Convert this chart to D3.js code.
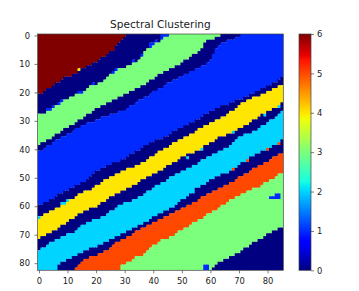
<!DOCTYPE html>
<html><head><meta charset="utf-8">
<script src="https://cdn.jsdelivr.net/npm/d3@7"></script>
<style>html,body{margin:0;padding:0;background:#fff}svg{display:block}text{font-family:"DejaVu Sans",sans-serif;fill:#1a1a1a}</style>
</head><body><div id="c"></div>
<script>
const xTicks=[0,10,20,30,40,50,60,70,80];
const yTicks=[0,10,20,30,40,50,60,70,80];
const cbTicks=[0,1,2,3,4,5,6];
const bandValues=[6,0,3,0,1,0,4,0,2,0,5,3,0];
// for every column: the row at which the next band starts
const b6to0=[21,21,20,19,19,18,17,17,16,15,15,15,14,14,13,12,12,11,11,10,10,9,8,8,7,6,6,4,3,2,1,0,0,0,0,0,0,0,0,0,0,0,0,0,0,0,0,0,0,0,0,0,0,0,0,0,0,0,0,0,0,0,0,0,0,0,0,0,0,0,0,0,0,0,0,0,0,0,0,0,0,0,0,0,0,0];
const b0to3=[28,28,28,27,27,26,25,25,24,23,23,22,22,21,21,21,20,19,18,18,18,17,17,16,15,14,14,13,12,12,12,11,11,10,10,9,8,6,5,5,4,3,3,2,1,1,0,0,0,0,0,0,0,0,0,0,0,0,0,0,0,0,0,0,0,0,0,0,0,0,0,0,0,0,0,0,0,0,0,0,0,0,0,0,0,0];
const b3to0=[39,38,38,37,37,36,35,35,34,33,33,32,32,31,30,30,29,28,28,27,26,26,25,25,24,24,23,23,22,22,21,21,20,20,19,19,18,18,17,16,16,15,14,14,13,13,12,12,11,11,10,9,9,8,7,7,6,5,3,2,2,2,1,1,0,0,0,0,0,0,0,0,0,0,0,0,0,0,0,0,0,0,0,0,0,0];
const b0to1=[41,41,40,39,39,38,37,37,36,36,35,35,34,33,33,32,32,31,31,31,30,30,29,29,29,28,28,28,27,27,27,26,25,25,24,23,23,22,22,21,20,20,19,19,18,17,17,16,16,15,15,14,14,13,13,12,12,11,11,10,9,7,5,4,3,3,2,2,2,1,1,0,0,0,0,0,0,0,0,0,0,0,0,0,0,0];
const b1to0=[60,60,59,59,58,58,57,56,56,55,55,54,54,53,53,52,52,51,50,49,48,48,47,47,46,46,45,45,45,44,44,43,42,42,41,41,40,39,39,38,38,37,37,37,36,36,35,34,34,33,33,32,32,31,31,30,30,29,28,28,27,27,26,26,25,25,25,24,24,23,23,23,22,22,21,21,20,20,19,19,18,18,17,17,16,15];
const b0to4=[64,64,63,63,62,62,61,61,60,60,59,58,58,57,56,56,55,55,55,54,53,53,52,51,51,50,50,49,49,48,48,47,47,47,46,46,45,45,44,43,43,42,41,41,40,40,39,38,38,37,37,36,36,35,35,34,33,33,32,32,31,31,30,30,29,29,28,27,27,26,25,24,24,23,23,22,22,22,21,21,20,20,19,19,18,18];
const b4to0=[72,71,71,70,70,69,69,68,67,67,66,65,65,64,63,63,62,62,61,61,61,60,59,59,58,57,57,56,56,55,55,54,54,53,53,52,51,51,50,50,49,49,48,48,47,46,46,45,45,44,43,43,42,42,42,41,41,40,39,39,38,38,37,36,36,36,35,35,34,34,33,33,32,32,31,30,30,29,28,28,27,27,26,26,25,24];
const b0to2=[76,75,75,74,73,73,72,72,71,71,70,70,70,69,68,67,67,66,66,65,65,65,64,64,63,62,62,61,60,60,59,59,59,58,58,57,57,56,55,55,54,53,53,52,52,51,50,50,49,49,48,48,47,47,46,46,45,44,44,43,43,42,42,41,41,40,40,39,38,37,36,36,35,35,35,34,34,33,32,32,31,30,30,29,28,27];
const b2to0=[83,83,83,83,83,83,83,81,80,80,79,79,78,78,77,77,76,76,75,75,75,74,74,73,73,72,72,71,71,70,70,69,69,68,68,67,67,66,66,65,64,64,63,63,62,62,61,61,60,59,58,58,57,56,56,54,54,53,53,52,51,51,50,50,49,49,49,48,47,47,46,45,45,44,43,43,42,42,41,41,40,40,39,39,38,37];
const b0to5=[83,83,83,83,83,83,83,83,83,83,83,83,83,82,81,80,79,79,78,78,78,77,77,76,76,75,74,73,73,72,72,71,71,70,69,69,68,68,67,67,66,66,65,65,64,64,63,63,62,62,61,61,60,60,59,59,58,57,57,56,56,55,55,54,54,53,53,52,52,51,50,50,49,49,48,47,47,46,46,45,45,44,43,43,42,42];
const b5to3=[83,83,83,83,83,83,83,83,83,83,83,83,83,83,83,83,83,83,83,83,83,83,83,83,83,83,83,83,83,81,81,80,80,79,78,78,78,77,76,75,74,74,73,72,72,72,71,71,70,69,69,68,68,67,66,66,65,65,64,63,63,62,62,61,60,60,59,58,58,57,57,56,56,55,55,54,54,54,53,52,52,51,51,50,49,49];
const b3to0b=[83,83,83,83,83,83,83,83,83,83,83,83,83,83,83,83,83,83,83,83,83,83,83,83,83,83,83,83,83,83,83,83,83,83,83,83,83,83,83,83,83,83,83,83,83,83,83,83,83,83,83,83,83,83,83,83,83,83,83,83,83,82,81,80,80,79,79,78,78,77,77,76,75,75,74,73,73,72,72,71,70,70,69,69,68,68];
const boundaries=[b6to0,b0to3,b3to0,b0to1,b1to0,b0to4,b4to0,b0to2,b2to0,b0to5,b5to3,b3to0b];
// isolated cells
const speckCols=[14, 3,4,5,7,8,14,15,19,26,27,33,36,39,39,40,41,43,43,44,45, 58,59,58,59, 83,84,81,82,83,84, 84,80,73,68, 84,79,68,57,52,0,8,9,10];
const speckRows=[12, 26,26,25,24,23,20,20,17,13,12,9,7,4,3,3,2,0,1,0,0, 81,81,82,82, 56,56,57,57,57,57, 38,40,44,47, 25,28,34,40,43,64,59,59,58];
const speckVals=[4, 1,1,1,1,1,1,1,1,1,1,1,1,1,1,1,1,1,1,1,1, 1,1,1,1, 1,1,1,1,1,1, 5,5,5,5, 2,2,2,2,2,2,2,2,2];

const W=359,H=291,L=37.5,R=283.3,T=34,B=270.3;
const nCols=86,nRows=83;
const x=d3.scaleLinear().domain([-0.5,85.5]).range([L,R]);
const y=d3.scaleLinear().domain([-0.5,82.5]).range([T,B]);
const seg=(pts)=>d3.scaleLinear().domain(pts.map(p=>p[0])).range(pts.map(p=>p[1])).clamp(true);
const rS=seg([[0,0],[.35,0],[.66,1],[.89,1],[1,.5]]);
const gS=seg([[0,0],[.125,0],[.375,1],[.64,1],[.91,0],[1,0]]);
const bS=seg([[0,.5],[.11,1],[.34,1],[.65,0],[1,0]]);
const norm=d3.scaleLinear().domain([0,6]).range([0,1]);
const jet=v=>{const t=norm(v);return d3.rgb(rS(t)*255,gS(t)*255,bS(t)*255).formatHex();};

// grid
const grid=d3.range(nCols).map(c=>{
  const col=new Array(nRows);
  for(let r=0;r<nRows;r++){
    let k=0;
    while(k<boundaries.length&&r>=boundaries[k][c])k++;
    col[r]=bandValues[k];
  }
  return col;
});
speckCols.forEach((c,i)=>{grid[c][speckRows[i]]=speckVals[i];});
const cells=[];
grid.forEach((col,c)=>{
  let s=0;
  for(let r=1;r<=nRows;r++){
    if(r===nRows||col[r]!==col[s]){cells.push({c,r0:s,r1:r-1,v:col[s]});s=r;}
  }
});

const svg=d3.select("#c").append("svg").attr("width",W).attr("height",H);
const defs=svg.append("defs");
defs.append("clipPath").attr("id","pc").append("rect").attr("x",L).attr("y",T).attr("width",R-L).attr("height",B-T);
const f=defs.append("filter").attr("id","soft").attr("filterUnits","userSpaceOnUse").attr("x",L-5).attr("y",T-5).attr("width",R-L+12).attr("height",B-T+10);
f.append("feGaussianBlur").attr("stdDeviation",0.35);
svg.append("g").attr("clip-path","url(#pc)").append("g").attr("filter","url(#soft)")
 .selectAll("rect").data(cells).join("rect")
 .attr("x",d=>x(d.c-0.5)).attr("y",d=>y(d.r0-0.5))
 .attr("width",d=>x(d.c+0.5)-x(d.c-0.5)+1.5)
 .attr("height",d=>y(d.r1+0.5)-y(d.r0-0.5))
 .attr("fill",d=>jet(d.v));

const style=(g)=>{g.selectAll("text").attr("font-size",8.4).attr("fill","#1a1a1a");g.selectAll("line").attr("stroke","#222").attr("stroke-width",0.6);g.select(".domain").remove();};
svg.append("g").attr("transform",`translate(0,${B})`).call(d3.axisBottom(x).tickValues(xTicks).tickSize(3).tickPadding(4.5)).call(style);
svg.append("g").attr("transform",`translate(${L},0)`).call(d3.axisLeft(y).tickValues(yTicks).tickSize(3).tickPadding(4.5)).call(style);
svg.append("rect").attr("x",L).attr("y",T).attr("width",R-L).attr("height",B-T).attr("fill","none").attr("stroke","#444").attr("stroke-width",0.7);

// colourbar
const cbL=299,cbR=311;
const cy=d3.scaleLinear().domain([0,6]).range([B,T]);
const grad=defs.append("linearGradient").attr("id","jetg").attr("x1",0).attr("x2",0).attr("y1",1).attr("y2",0);
const stopVals=[0,.11,.125,.34,.35,.375,.64,.65,.66,.89,.91,1];
grad.selectAll("stop").data(stopVals).join("stop")
 .attr("offset",d=>d).attr("stop-color",d=>jet(norm.invert(d)));
svg.append("rect").attr("x",cbL).attr("y",T).attr("width",cbR-cbL).attr("height",B-T).attr("fill","url(#jetg)").attr("stroke","#444").attr("stroke-width",0.7);
svg.append("g").attr("transform",`translate(${cbR},0)`).call(d3.axisRight(cy).tickValues(cbTicks).tickSize(3).tickPadding(3).tickFormat(d3.format("d"))).call(style);

svg.append("text").attr("x",(L+R)/2).attr("y",28.3).attr("text-anchor","middle").attr("font-size",10.55).text("Spectral Clustering");
</script></body></html>
